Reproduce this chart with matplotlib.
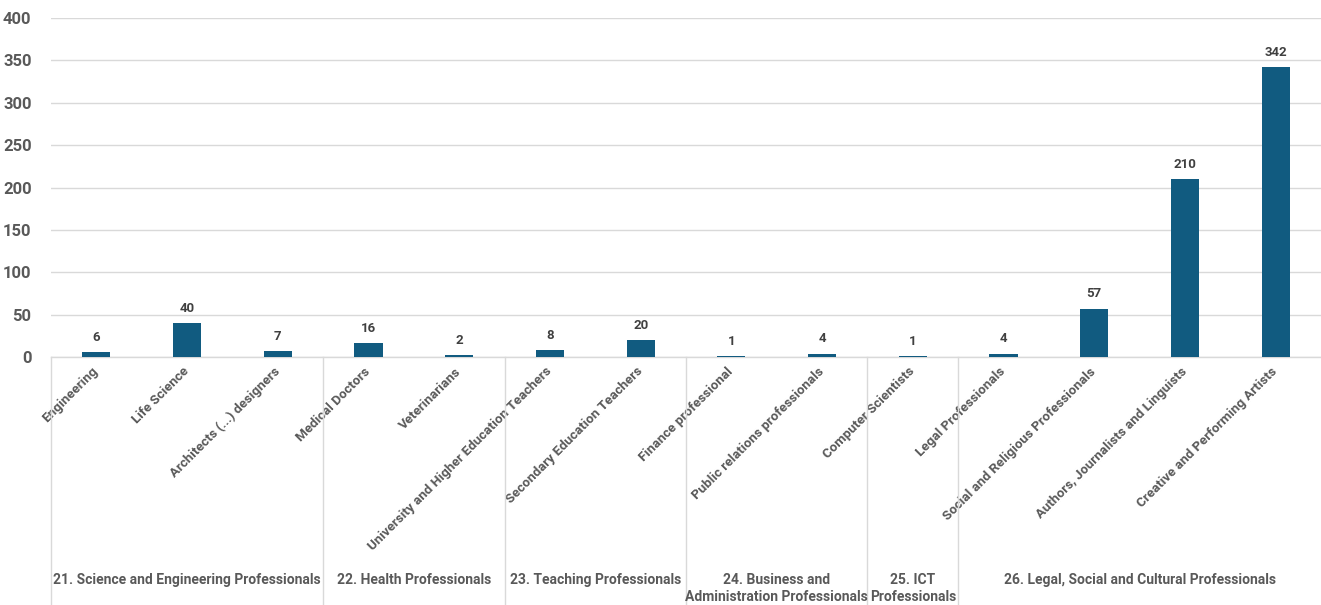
import matplotlib
matplotlib.use("Agg")
import matplotlib.pyplot as plt
from matplotlib.transforms import blended_transform_factory

occupations = [
    "Engineering", "Life Science", "Architects (...) designers",
    "Medical Doctors", "Veterinarians",
    "University and Higher Education Teachers", "Secondary Education Teachers",
    "Finance professional", "Public relations professionals",
    "Computer Scientists",
    "Legal Professionals", "Social and Religious Professionals",
    "Authors, Journalists and Linguists", "Creative and Performing Artists",
]
counts = [6, 40, 7, 16, 2, 8, 20, 1, 4, 1, 4, 57, 210, 342]

group_names = [
    "21. Science and Engineering Professionals",
    "22. Health Professionals",
    "23. Teaching Professionals",
    "24. Business and\nAdministration Professionals",
    "25. ICT\nProfessionals",
    "26. Legal, Social and Cultural Professionals",
]
group_sizes = [3, 2, 2, 2, 1, 4]

y_ticks = [0, 50, 100, 150, 200, 250, 300, 350, 400]

BAR = "#115b80"
TXT = "#595959"
GRID = "#d9d9d9"
FONT = ["Roboto", "DejaVu Sans"]

plt.rcParams["font.family"] = FONT

fig = plt.figure(figsize=(13.21, 6.05), dpi=100)
ax = fig.add_axes([51 / 1321, 248 / 605, 1 - 51 / 1321, 339 / 605])

x = list(range(len(occupations)))
ax.bar(x, counts, width=0.31, color=BAR, zorder=3)

for xi, v in zip(x, counts):
    ax.annotate(str(v), (xi, v), xytext=(0, 6), textcoords="offset points",
                ha="center", va="bottom", fontsize=9.5, fontweight="bold",
                color="#404040")

ax.set_xlim(-0.5, len(occupations) - 0.5)
ax.set_ylim(0, 400)
ax.set_yticks(y_ticks)
ax.set_yticklabels([str(t) for t in y_ticks], fontsize=12,
                   fontweight="bold", color=TXT)
ax.tick_params(axis="y", length=0, pad=14)
ax.yaxis.grid(True, color=GRID, linewidth=1, zorder=0)
ax.set_axisbelow(True)

ax.set_xticks(x)
ax.set_xticklabels(occupations, rotation=45, ha="right", va="center",
                   rotation_mode="anchor", fontsize=9.6, fontweight="bold",
                   color=TXT)
ax.tick_params(axis="x", length=0, pad=9)

for side in ["top", "right", "left"]:
    ax.spines[side].set_visible(False)
ax.spines["bottom"].set_color(GRID)
ax.spines["bottom"].set_linewidth(1)

# group separators and group labels below the category axis
sep_tr = blended_transform_factory(ax.transData, fig.transFigure)
start = 0
bounds = [-0.5]
for name, size in zip(group_names, group_sizes):
    end = start + size
    bounds.append(end - 0.5)
    mid = (start + end - 1) / 2
    ax.text(mid, 32 / 605, name, transform=sep_tr, ha="center", va="top",
            fontsize=10, fontweight="bold", color=TXT, linespacing=1.3)
    start = end

for b in bounds[:-1]:
    ax.plot([b, b], [0, 248 / 605], transform=sep_tr, color=GRID,
            linewidth=1, clip_on=False, zorder=1)

fig.savefig("out.png", dpi=100, facecolor="white")
